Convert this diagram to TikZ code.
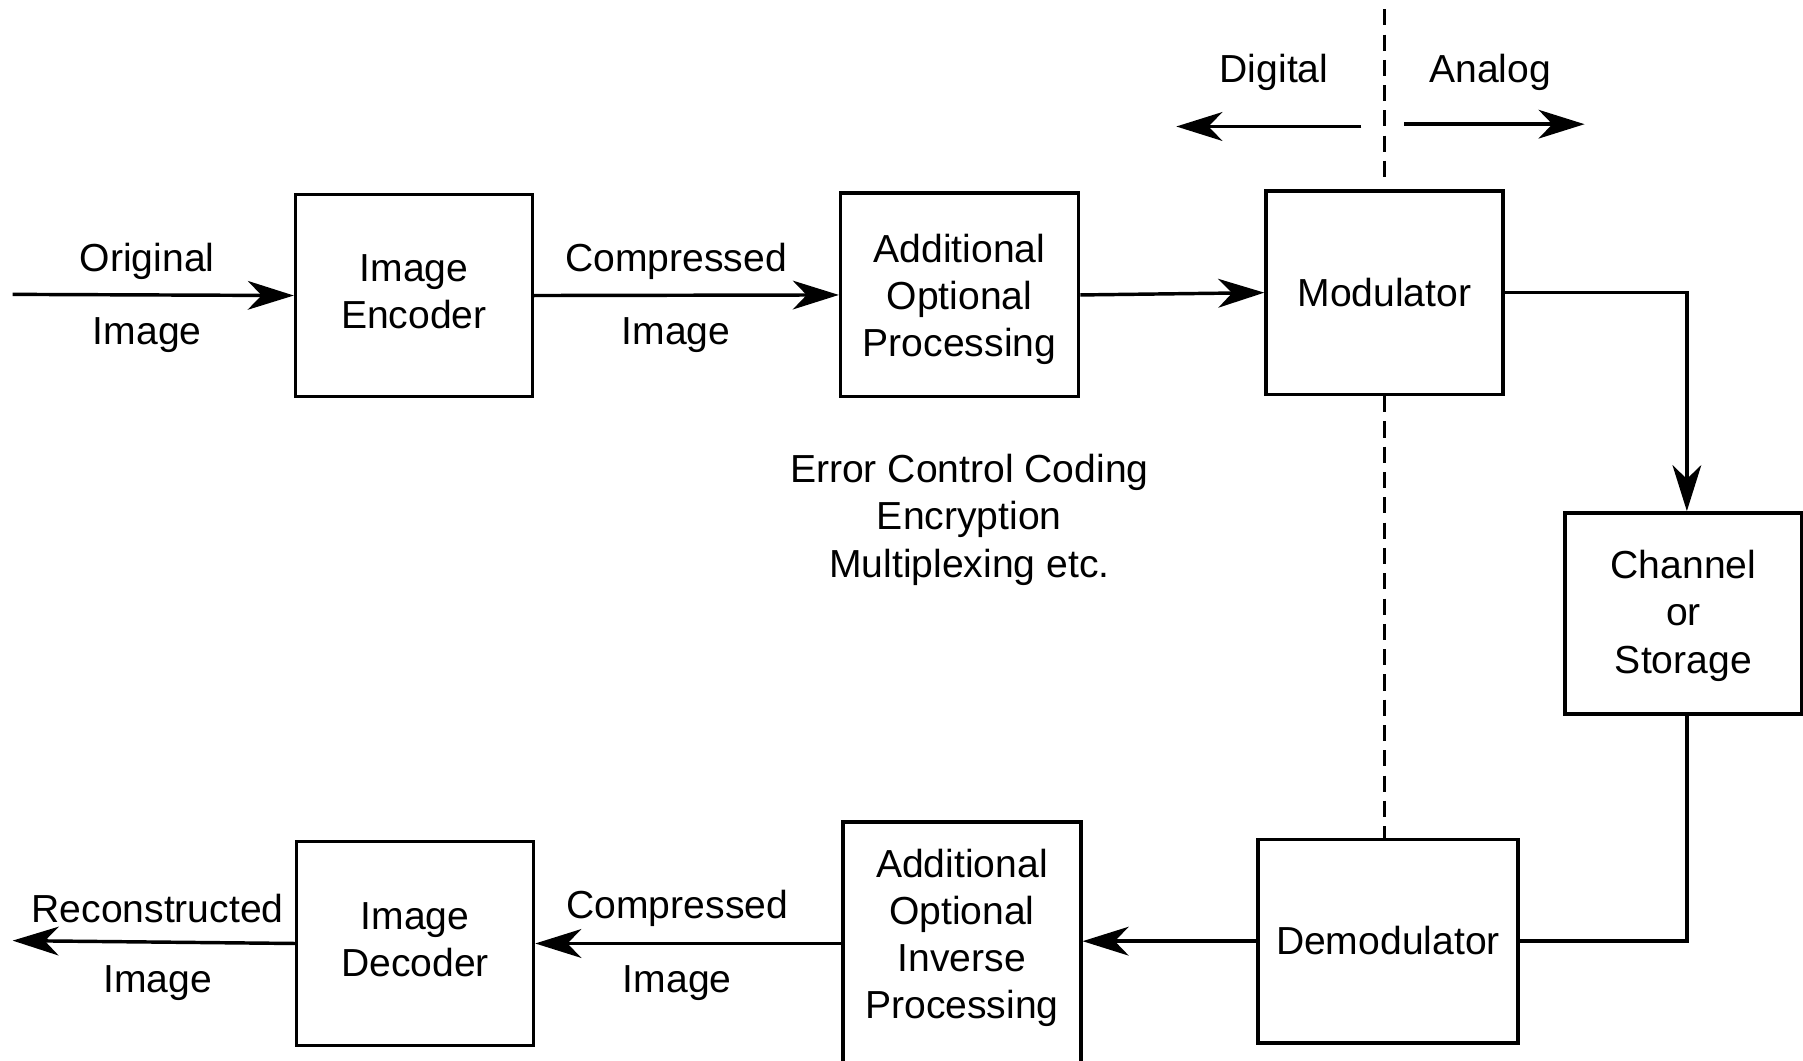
\documentclass[tikz,border=0pt]{standalone}
\usepackage{fontspec}
\setmainfont{Liberation Sans}
\usetikzlibrary{arrows.meta}
\begin{document}
\begin{tikzpicture}[x=0.5pt,y=-0.5pt,
  txt/.style={inner sep=0pt, align=center, font=\fontsize{17}{20.5}\selectfont},
  blk/.style={draw, line width=1.5pt, inner sep=0pt},
  flow/.style={line width=1.5pt, -{Stealth[length=20pt,width=12.5pt,inset=6pt]}},
  wire/.style={line width=1.5pt},
  divider/.style={line width=1.3pt, dash pattern=on 7pt off 4pt}]
\useasboundingbox (0,0) rectangle (1568,922);
\clip (0,0) rectangle (1568,922);

% transmitter chain
\node[blk, minimum width=103pt, minimum height=88pt] (enc) at (360,257) {};
\node[txt] (enctxt) at (360,253.5) {Image\\Encoder};
\node[blk, minimum width=103.5pt, minimum height=88.5pt] (aop) at (834.5,256.5) {};
\node[txt] (aoptxt) at (834.5,260.5) {Additional\\Optional\\Processing};
\node[blk, minimum width=103pt, minimum height=88.5pt] (mod) at (1204,254.5) {};
\node[txt] (modtxt) at (1204,254) {Modulator};
\node[blk, minimum width=103pt, minimum height=87.5pt] (chan) at (1464,533.5) {};
\node[txt] (chantxt) at (1464,535.5) {Channel\\or\\Storage};

% receiver chain
\node[blk, minimum width=113pt, minimum height=88.5pt] (demod) at (1207,818.5) {};
\node[txt] (demodtxt) at (1207,817.5) {Demodulator};
\node[blk, minimum width=103.5pt, minimum height=115pt] (aoip) at (836.5,830) {};
\node[txt] (aoiptxt) at (836.5,815.5) {Additional\\Optional\\Inverse\\Processing};
\node[blk, minimum width=103pt, minimum height=88.5pt] (dec) at (361,820.5) {};
\node[txt] (dectxt) at (361,817) {Image\\Decoder};

% signal labels
\node[txt] (origA) at (128,227) {Original};
\node[txt] (origB) at (128,291) {Image};
\node[txt] (compA) at (588,227) {Compressed};
\node[txt] (compB) at (588,291) {Image};
\node[txt] (rcompA) at (589,790) {Compressed};
\node[txt] (rcompB) at (589,855) {Image};
\node[txt] (recA) at (137,790) {Reconstructed};
\node[txt] (recB) at (137,855) {Image};
\node[txt] (dig) at (1108,63) {Digital};
\node[txt] (ana) at (1296,63) {Analog};
\node[txt] (extra) at (843,452) {Error Control Coding\\Encryption\\Multiplexing etc.};

% free ends
\coordinate (in) at (11,256);
\coordinate (out) at (11,818);
\coordinate (digS) at (1184,110);
\coordinate (digE) at (1023,110);
\coordinate (anaS) at (1221,108);
\coordinate (anaE) at (1378,108);
\coordinate (dtop) at (1204,8);
\coordinate (dmid) at (1204,157);
\coordinate (chanR) at (1467,0);

% connectors
\draw[flow] (in) -- (enc.west);
\draw[flow] (enc.east) -- (aop.west);
\draw[flow] (aop.east) -- (mod.west);
\draw[flow] (mod.east) -| (chanR |- chan.north);
\draw[wire] (chanR |- chan.south) |- (demod.east);
\draw[flow] (demod.west) -- (aoip.east |- demod.west);
\draw[flow] (aoip.west |- dec.east) -- (dec.east);
\draw[flow] (dec.west) -- (out);

% digital / analog boundary
\draw[flow] (digS) -- (digE);
\draw[flow] (anaS) -- (anaE);
\draw[divider] (dtop) -- (dmid);
\draw[divider] (mod.south) -- (mod.south |- demod.north);
\end{tikzpicture}
\end{document}
